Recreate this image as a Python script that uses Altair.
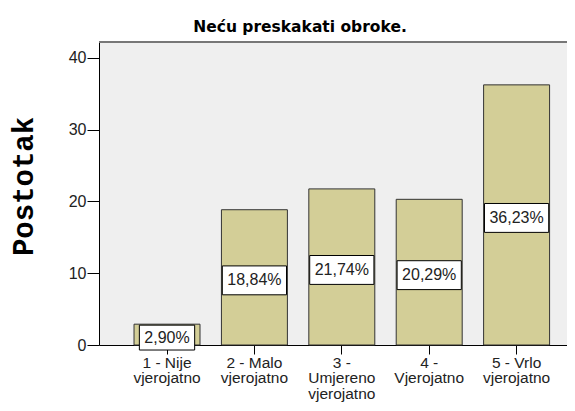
import altair as alt
import pandas as pd

categories = ["1 - Nije\nvjerojatno", "2 - Malo\nvjerojatno", "3 -\nUmjereno\nvjerojatno",
              "4 -\nVjerojatno", "5 - Vrlo\nvjerojatno"]
values = [2.90, 18.84, 21.74, 20.29, 36.23]
labels = ["2,90%", "18,84%", "21,74%", "20,29%", "36,23%"]

df = pd.DataFrame({"cat": categories, "val": values, "lab": labels})
df["half"] = df["val"] / 2
# label box width: text width (digits, comma, percent sign) plus padding
df["boxsize"] = [(sum(c.isdigit() for c in s) * 8.9 + 4.4 + 14.2 + 10) ** 2 for s in df["lab"]]

FONT = "Liberation Sans"
W, H = 468, 303

x_enc = alt.X("cat:N", sort=categories, title=None,
              scale=alt.Scale(paddingInner=0.245, paddingOuter=0.3, align=0.668),
              axis=alt.Axis(labelAngle=0, labelExpr="split(datum.label, '\\n')",
                            labelFont=FONT, labelFontSize=15.5, labelColor="#222222",
                            labelLineHeight=15.5, labelPadding=1, tickSize=9,
                            tickColor="#000000", domainColor="#000000", labelBaseline="top"))
y_enc = alt.Y("val:Q", title="Postotak",
              scale=alt.Scale(domain=[0, 42.2], nice=False),
              axis=alt.Axis(values=[0, 10, 20, 30, 40], grid=False, tickSize=12,
                            labelPadding=1, labelFont=FONT, labelFontSize=16,
                            labelColor="#222222", tickColor="#000000", domainColor="#000000",
                            titleFont="Liberation Mono", titleFontWeight="bold",
                            titleFontSize=29, titleColor="#000000", titlePadding=30,
                            titleY=144))

base = alt.Chart(df)

bars = base.mark_bar(color="#d3ce97", stroke="#333333", strokeWidth=1).encode(x=x_enc, y=y_enc)

boxes = base.mark_point(
    shape="M-1,-0.45H1V0.45H-1Z", filled=True, fill="white", stroke="#000000",
    strokeWidth=1, opacity=1, yOffset=3
).encode(x=alt.X("cat:N", sort=categories), y=alt.Y("half:Q"),
         size=alt.Size("boxsize:Q", scale=None, legend=None))

texts = base.mark_text(font=FONT, fontSize=16, color="#222222", baseline="middle",
                       align="center", yOffset=3).encode(
    x=alt.X("cat:N", sort=categories), y=alt.Y("half:Q"), text="lab:N")

top_line = alt.Chart(pd.DataFrame({"v": [0]})).mark_rule(color="#777777", strokeWidth=2).encode(
    x=alt.value(0), x2=alt.value(W), y=alt.value(0))

chart = alt.layer(bars, boxes, texts, top_line).properties(
    width=W, height=H,
    title=alt.TitleParams("Neću preskakati obroke.", font="DejaVu Sans", fontWeight="bold",
                          fontSize=15.5, color="#000000", offset=6, dx=-33, anchor="middle"),
    background="white",
    autosize=alt.AutoSizeParams(type="none"),
    padding={"left": 91, "top": 34, "right": 0, "bottom": 58}
).configure_view(stroke=None, fill="#efefef")

chart.save("out.html", embed_options={"renderer": "svg", "actions": False})
